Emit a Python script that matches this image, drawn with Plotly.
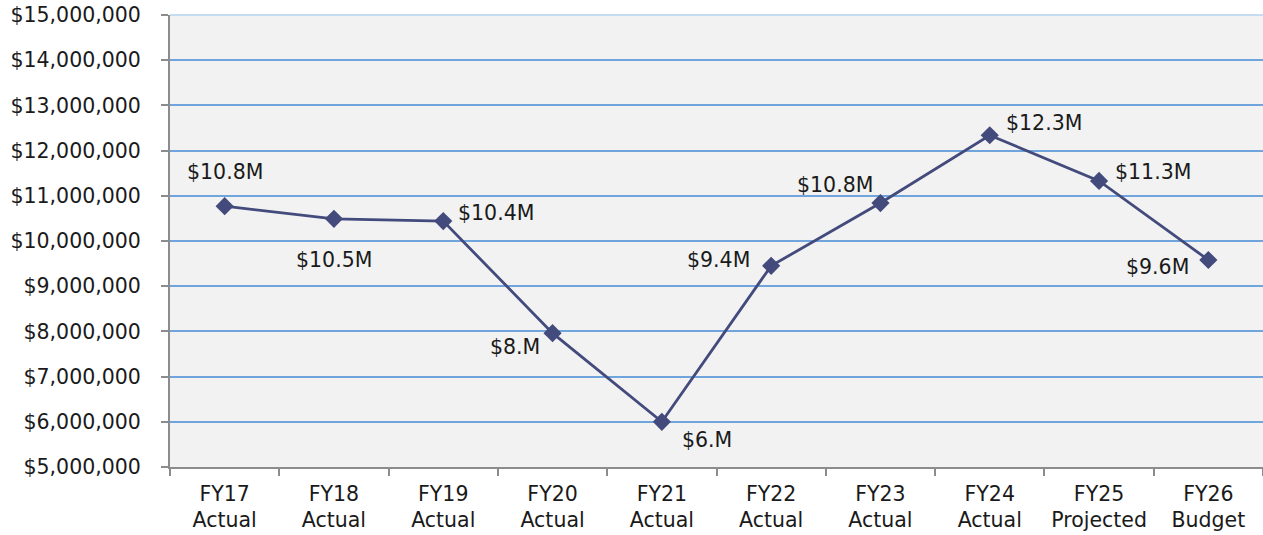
import plotly.graph_objects as go

categories = ["FY17<br>Actual", "FY18<br>Actual", "FY19<br>Actual", "FY20<br>Actual", "FY21<br>Actual",
              "FY22<br>Actual", "FY23<br>Actual", "FY24<br>Actual", "FY25<br>Projected", "FY26<br>Budget"]
values = [10770000, 10490000, 10440000, 7960000, 6000000, 9450000, 10840000, 12340000, 11330000, 9580000]
labels = ["$10.8M", "$10.5M", "$10.4M", "$8.M", "$6.M", "$9.4M", "$10.8M", "$12.3M", "$11.3M", "$9.6M"]
y_ticks = list(range(5000000, 15000001, 1000000))
y_tick_text = ["${:,}".format(v) for v in y_ticks]

# label offsets in pixels (style only): (dx, dy) relative to each point
label_shift = [(0, 34), (0, -41), (53, 8), (-38, -14), (45, -18),
               (-53, 6), (-45, 18), (54, 12), (54, 9), (-51, -7)]

FONT = "'DejaVu Sans', sans-serif"
FS = 20.5
TXT = "#1a1a1a"

fig = go.Figure()
fig.add_trace(go.Scatter(
    x=categories, y=values, mode="lines+markers",
    line=dict(color="#434a7c", width=2.8),
    marker=dict(symbol="diamond", size=14, color="#434a7c"),
    cliponaxis=False, showlegend=False, hoverinfo="x+y",
))

for c, v, t, (dx, dy) in zip(categories, values, labels, label_shift):
    fig.add_annotation(x=c, y=v, text=t, showarrow=False, xshift=dx, yshift=dy,
                       font=dict(family=FONT, size=FS, color=TXT))

# light top border line at the 15M gridline
fig.add_shape(type="line", xref="x domain", yref="y domain", x0=0, x1=1, y0=1, y1=1,
              line=dict(color="#c5dbf2", width=2), layer="above")

fig.update_layout(
    width=1263, height=535,
    margin=dict(l=170, r=0, t=15, b=68, autoexpand=False),
    paper_bgcolor="white", plot_bgcolor="#f2f2f2",
    font=dict(family=FONT, size=FS, color=TXT),
    xaxis=dict(
        type="category", tickson="boundaries", ticks="outside", ticklen=7,
        tickcolor="#8c8c8c", tickwidth=2, automargin=False,
        showline=True, linecolor="#8c8c8c", linewidth=2,
        showgrid=False, range=[-0.5, 9.5], ticklabelstandoff=7,
        tickfont=dict(family=FONT, size=FS, color=TXT),
    ),
    yaxis=dict(
        range=[5000000, 15000000], tickvals=y_ticks, ticktext=y_tick_text,
        ticks="outside", ticklen=7, tickcolor="#8c8c8c", tickwidth=2,
        showline=True, linecolor="#8c8c8c", linewidth=2, automargin=False,
        showgrid=True, gridcolor="#6fa5dc", gridwidth=2, zeroline=False,
        ticklabelstandoff=16, ticklabeloverflow="allow",
        tickfont=dict(family=FONT, size=FS, color=TXT),
    ),
)

fig.write_html("out.html", config={"displayModeBar": False},
               post_script="document.body.style.margin='0';document.body.style.overflow='hidden';")
